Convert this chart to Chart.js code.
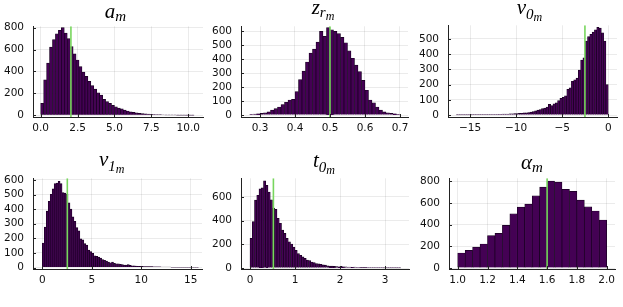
<!DOCTYPE html>
<html><head><meta charset="utf-8">
<script src="https://cdn.jsdelivr.net/npm/chart.js@4.4.1/dist/chart.umd.min.js"></script>
<style>
html,body{margin:0;padding:0;background:#fff;overflow:hidden;width:623px;height:307px;}
.box{position:absolute;}
.ttl{position:absolute;font-family:'Liberation Serif',serif;font-style:italic;font-size:21px;line-height:1;white-space:nowrap;transform:translateX(-50%);color:#000;}
.ttl span{position:relative;}
</style></head><body>
<div class="box" id="b0"><canvas id="c0"></canvas></div>
<div class="box" id="b1"><canvas id="c1"></canvas></div>
<div class="box" id="b2"><canvas id="c2"></canvas></div>
<div class="box" id="b3"><canvas id="c3"></canvas></div>
<div class="box" id="b4"><canvas id="c4"></canvas></div>
<div class="box" id="b5"><canvas id="c5"></canvas></div>
<div class="ttl" id="t0">a<span style="font-size:15px;top:3px">m</span></div>
<div class="ttl" id="t1">z<span style="font-size:15px;top:3px">r<span style="font-size:12px;top:3px">m</span></span></div>
<div class="ttl" id="t2">v<span style="font-size:15px;top:5px">0<span style="font-size:12px;top:2px">m</span></span></div>
<div class="ttl" id="t3">v<span style="font-size:15px;top:5px">1<span style="font-size:12px;top:2px">m</span></span></div>
<div class="ttl" id="t4">t<span style="font-size:15px;top:5px">0<span style="font-size:12px;top:2px">m</span></span></div>
<div class="ttl" id="t5">α<span style="font-size:15px;top:3px">m</span></div>
<script>
// ---------------- DATA ----------------
const aBinStart = 0, aBinWidth = 0.2;
const aCounts = [110,323,476,623,690,744,775,800,750,700,626,560,505,445,395,355,310,272,240,206,185,145,125,110,92,78,66,60,48,40,32,28,23,19,16,13,11,9,8,7,6,5,4,4,3,3,2,2,2,1,1,1];
const aXTicks = [0,2.5,5,7.5,10];
const aXLabels = ["0.0","2.5","5.0","7.5","10.0"];
const aYTicks = [0,200,400,600,800];

const zBinStart = 0.27, zBinWidth = 0.01;
const zCounts = [5,7,9,12,16,23,35,46,58,76,92,108,113,168,254,316,381,445,473,524,600,565,628,612,600,584,558,519,461,408,358,312,249,178,108,88,58,35,23,16,12,9,5];
const zXTicks = [0.3,0.4,0.5,0.6,0.7];
const zXLabels = ["0.3","0.4","0.5","0.6","0.7"];
const zYTicks = [0,100,200,300,400,500,600];

const v0BinStart = -16.5, v0BinWidth = 0.25;
const v0Counts = [1,1,1,1,1,1,1,2,2,2,2,2,3,3,3,4,4,4,5,5,6,6,7,8,8,9,10,11,12,14,15,17,
  19,23,27,32,36,42,46,53,70,62,74,80,95,110,116,127,169,179,222,232,243,295,360,375,
  485,515,530,545,560,576,570,540,485,200];
const v0XTicks = [-15,-10,-5,0];
const v0XLabels = ["\u221215","\u221210","\u22125","0"];
const v0YTicks = [0,100,200,300,400,500];

const v1BinStart = 0, v1BinWidth = 0.2;
const v1Counts = [168,277,386,454,502,539,574,579,590,574,513,509,502,443,400,347,317,273,251,197,
  190,164,153,120,109,98,81,76,72,65,55,50,44,37,33,37,28,26,26,22,20,17,17,20,15,
  12,11,10,9,8,8,7,7,6,6,6,5,5,5,5,4,4,4,4,4,3,3,3,3,3,3,3,2,2,2,2,2,2,2];
const v1XTicks = [0,5,10,15];
const v1XLabels = ["0","5","10","15"];
const v1YTicks = [0,100,200,300,400,500,600];

const t0BinStart = 0, t0BinWidth = 0.05;
const t0Counts = [251,392,573,614,668,676,735,697,640,575,505,495,419,378,319,292,251,222,203,176,
  149,122,108,95,81,68,62,51,46,38,35,32,27,24,19,16,16,14,13,11,14,11,10,
  9,8,7,8,6,6,5,5,5,4,4,4,3,3,3,3,2,2,2,2,2,2,1,1];
const t0XTicks = [0,1,2,3];
const t0XLabels = ["0","1","2","3"];
const t0YTicks = [0,200,400,600];

const alBinStart = 1.0, alBinWidth = 0.05;
const alCounts = [139,163,193,222,299,320,394,501,563,590,667,747,803,794,726,708,628,566,527,444];
const alXTicks = [1.0,1.2,1.4,1.6,1.8,2.0];
const alXLabels = ["1.0","1.2","1.4","1.6","1.8","2.0"];
const alYTicks = [0,200,400,600,800];

const trueValues = [2.05, 0.5, -2.53, 2.53, 0.52, 1.6];

// ---------------- LAYOUT / STYLE ----------------
const YW = 40, PT = 12, PR = 10, XH = 24;
const panels = [
  {counts:aCounts, bs:aBinStart, bw:aBinWidth, xt:aXTicks, xl:aXLabels, yt:aYTicks, xr:[-0.52,11.0], yr:[-15,812], area:[33,23,203,117], title:[115.5,0.5]},
  {counts:zCounts, bs:zBinStart, bw:zBinWidth, xt:zXTicks, xl:zXLabels, yt:zYTicks, xr:[0.2457,0.7229], yr:[-14,637], area:[241,23,408,117], title:[323,-2.6]},
  {counts:v0Counts, bs:v0BinStart, bw:v0BinWidth, xt:v0XTicks, xl:v0XLabels, yt:v0YTicks, xr:[-17.39,0.95], yr:[-12.7,589], area:[448,22,617,117], title:[529.5,-2.6]},
  {counts:v1Counts, bs:v1BinStart, bw:v1BinWidth, xt:v1XTicks, xl:v1XLabels, yt:v1YTicks, xr:[-0.94,16.15], yr:[-10,611], area:[33,175,202,269], title:[111.7,149.1]},
  {counts:t0Counts, bs:t0BinStart, bw:t0BinWidth, xt:t0XTicks, xl:t0XLabels, yt:t0YTicks, xr:[-0.2,3.533], yr:[-8,756.5], area:[241,175,409,269], title:[324,150.4]},
  {counts:alCounts, bs:alBinStart, bw:alBinWidth, xt:alXTicks, xl:alXLabels, yt:alYTicks, xr:[0.9416,2.0557], yr:[-9,829], area:[449,175,615,269], title:[532,151.7]}
];

Chart.defaults.font.family = "'DejaVu Sans', sans-serif";
Chart.defaults.font.size = 10.5;
Chart.defaults.color = '#111';

const innerTicks = {
  id: 'innerTicks',
  afterDatasetsDraw(chart) {
    const {ctx, chartArea: a, scales: {x, y}} = chart;
    ctx.save();
    ctx.strokeStyle = '#222';
    ctx.lineWidth = 1;
    ctx.beginPath();
    x.ticks.forEach(t => { const px = Math.round(x.getPixelForValue(t.value)) + 0.5; ctx.moveTo(px, a.bottom); ctx.lineTo(px, a.bottom - 3); });
    y.ticks.forEach(t => { const py = Math.round(y.getPixelForValue(t.value)) + 0.5; ctx.moveTo(a.left, py); ctx.lineTo(a.left + 3, py); });
    ctx.stroke();
    ctx.restore();
  }
};

panels.forEach((p, i) => {
  const [L, T, R, B] = p.area;
  const box = document.getElementById('b' + i);
  box.style.left = (L - YW) + 'px';
  box.style.top = (T - PT) + 'px';
  box.style.width = (YW + (R - L) + PR) + 'px';
  box.style.height = (PT + (B - T) + XH) + 'px';
  const tt = document.getElementById('t' + i);
  tt.style.left = p.title[0] + 'px';
  tt.style.top = p.title[1] + 'px';

  const barData = p.counts.map((c, k) => ({x: p.bs + (k + 0.5) * p.bw, y: c}));
  const tv = trueValues[i];
  new Chart(document.getElementById('c' + i), {
    type: 'bar',
    data: {
      datasets: [
        {type: 'line', data: [{x: tv, y: p.yr[0]}, {x: tv, y: p.yr[1]}], borderColor: '#78d65e', borderWidth: 1.6, pointRadius: 0, order: 0},
        {type: 'bar', data: barData, backgroundColor: '#440154', borderColor: '#16001e', borderWidth: 0.7, barPercentage: 1, categoryPercentage: 1, order: 1}
      ]
    },
    options: {
      responsive: true, maintainAspectRatio: false, animation: false,
      devicePixelRatio: 1,
      layout: {padding: {top: PT, right: PR, left: 0, bottom: 0}},
      plugins: {legend: {display: false}, tooltip: {enabled: false}, title: {display: false}},
      scales: {
        x: {
          type: 'linear', min: p.xr[0], max: p.xr[1], offset: false,
          grid: {offset: false, color: 'rgba(0,0,0,0.08)', drawTicks: false},
          border: {display: true, color: '#222', width: 1},
          ticks: {autoSkip: false, maxRotation: 0, padding: 5, callback: (v, k) => p.xl[k]},
          afterBuildTicks: s => { s.ticks = p.xt.map(v => ({value: v})); },
          afterFit: s => { s.height = XH; }
        },
        y: {
          type: 'linear', min: p.yr[0], max: p.yr[1],
          grid: {color: 'rgba(0,0,0,0.08)', drawTicks: false},
          border: {display: true, color: '#222', width: 1},
          ticks: {autoSkip: false, padding: 9, callback: v => String(v)},
          afterBuildTicks: s => { s.ticks = p.yt.map(v => ({value: v})); },
          afterFit: s => { s.width = YW; }
        }
      }
    },
    plugins: [innerTicks]
  });
});
</script>
</body></html>
